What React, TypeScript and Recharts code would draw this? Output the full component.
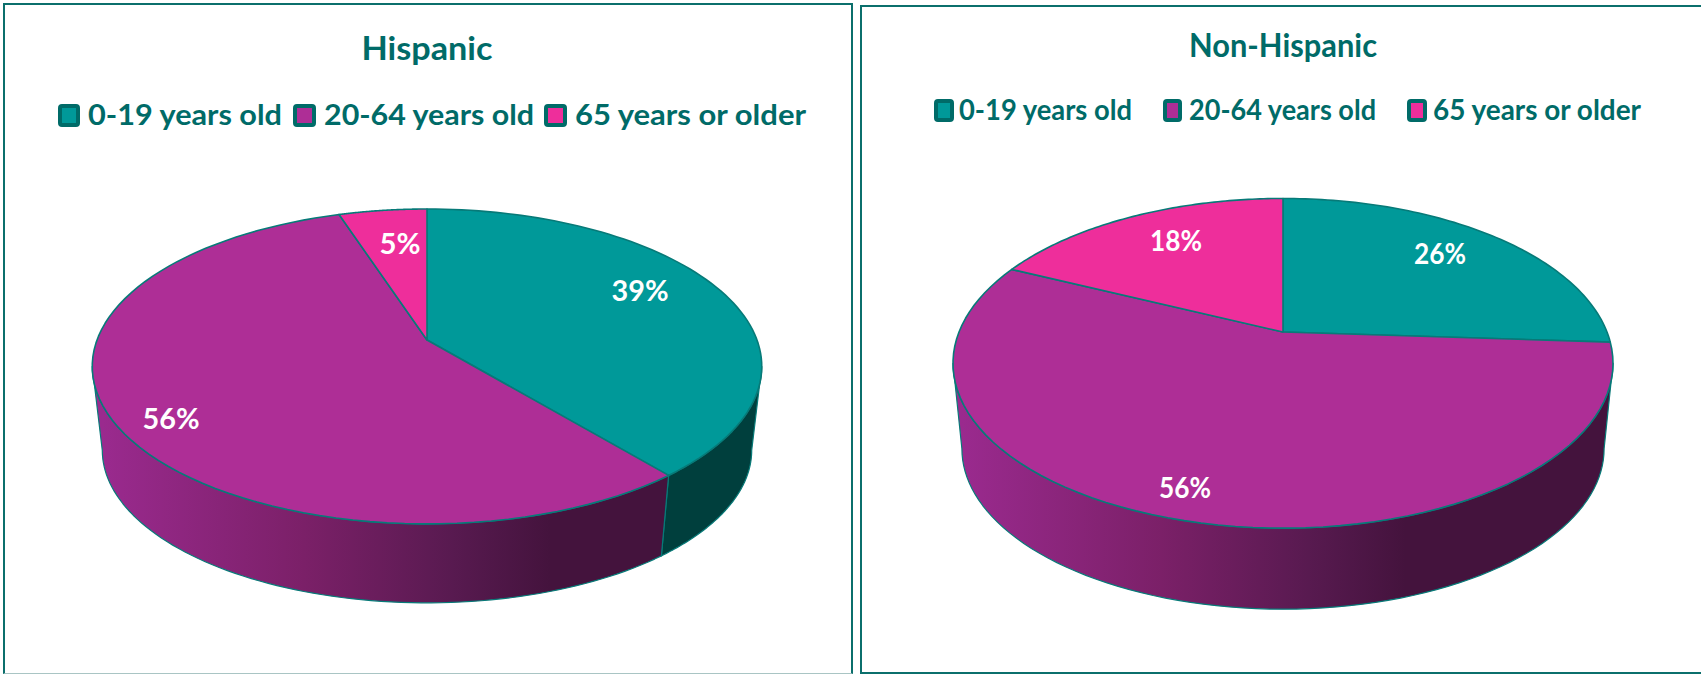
import { Legend, Pie, PieChart } from "recharts";

const AGE_GROUPS = ["0-19 years old", "20-64 years old", "65 years or older"];
const HISPANIC_VALUES = [39, 56, 5];
const NON_HISPANIC_VALUES = [26, 56, 18];
const SLICE_COLORS = ["#009999", "#ae2e96", "#ee2e9b"];

const TEAL_TEXT = "#006b68";
const EDGE = "#077a78";
const FONT = "Lato, Carlito, 'Open Sans', sans-serif";

const tableFor = (values: number[]) =>
  AGE_GROUPS.map((name, i) => ({ name, value: values[i], fill: SLICE_COLORS[i] }));

// fake perspective: the unit circle is projected so the apex sits above the ellipse centre
type Geo = { k: number; squash: number; drop: number; shrink: number; gradId: string };

function rimPoint(cx: number, cy: number, r: number, geo: Geo, deg: number) {
  const t = (deg * Math.PI) / 180;
  const u = Math.sin(t);
  const v = Math.cos(t);
  const w = 1 + geo.k * v;
  return { x: cx + (r * u) / w, y: cy - (r * geo.squash * v) / w };
}

function sliceShape(geo: Geo) {
  return (props: any) => {
    const { cx, cy, outerRadius, startAngle, endAngle, fill } = props;
    const from = 90 - startAngle;
    const to = 90 - endAngle;
    const steps = 80;

    const top: string[] = [];
    for (let i = 0; i <= steps; i++) {
      const p = rimPoint(cx, cy, outerRadius, geo, from + ((to - from) * i) / steps);
      top.push(`${p.x.toFixed(2)},${p.y.toFixed(2)}`);
    }

    // side wall is only seen between the two silhouette points
    const visFrom = (Math.acos(-geo.k) * 180) / Math.PI;
    const visTo = 360 - visFrom;
    const lo = Math.max(from, visFrom);
    const hi = Math.min(to, visTo);
    let wall = "";
    if (lo < hi) {
      const upper: string[] = [];
      const lower: string[] = [];
      for (let i = 0; i <= steps; i++) {
        const d = lo + ((hi - lo) * i) / steps;
        const a = rimPoint(cx, cy, outerRadius, geo, d);
        const b = rimPoint(cx, cy + geo.drop, outerRadius * geo.shrink, geo, d);
        upper.push(`${a.x.toFixed(2)},${a.y.toFixed(2)}`);
        lower.unshift(`${b.x.toFixed(2)},${b.y.toFixed(2)}`);
      }
      wall = `M${upper.join("L")}L${lower.join("L")}Z`;
    }

    const extent = (outerRadius * geo.shrink) / Math.sqrt(1 - geo.k * geo.k);
    const wallFill =
      fill === SLICE_COLORS[1] ? `url(#${geo.gradId})` : fill === SLICE_COLORS[0] ? "#003f3d" : "#7a1450";

    return (
      <g>
        <defs>
          <linearGradient
            id={geo.gradId}
            gradientUnits="userSpaceOnUse"
            x1={cx - extent}
            x2={cx + extent}
            y1={0}
            y2={0}
          >
            <stop offset="0" stopColor="#9a2a8e" />
            <stop offset="0.31" stopColor="#7b2068" />
            <stop offset="0.54" stopColor="#581a50" />
            <stop offset="0.69" stopColor="#44133d" />
            <stop offset="1" stopColor="#44133d" />
          </linearGradient>
        </defs>
        {wall && <path d={wall} fill={wallFill} stroke={EDGE} strokeWidth={1.2} strokeLinejoin="round" />}
        <path
          d={`M${cx},${cy}L${top.join("L")}Z`}
          fill={fill}
          stroke={EDGE}
          strokeWidth={1.6}
          strokeLinejoin="round"
        />
      </g>
    );
  };
}

type LegendSlot = { box: number; boxW: number; text: number; textW: number };

function AgeLegend({ payload, slots, y }: any) {
  // zero-height wrapper so the legend does not take room from the plot area
  return (
    <div style={{ height: 0, overflow: "visible" }}>
      <svg width={857} height={140} style={{ display: "block", overflow: "visible" }}>
        {(payload ?? []).map((entry: any, i: number) => {
          const s: LegendSlot = slots[i];
          return (
            <g key={entry.value}>
              <rect
                x={s.box + 2}
                y={y + 2}
                width={s.boxW - 4}
                height={19}
                rx={2}
                fill={entry.color}
                stroke={TEAL_TEXT}
                strokeWidth={4}
              />
              <text
                x={s.text}
                y={y + 21}
                fontFamily={FONT}
                fontSize={28}
                fontWeight={700}
                fill={TEAL_TEXT}
                textLength={s.textW}
                lengthAdjust="spacingAndGlyphs"
              >
                {entry.value}
              </text>
            </g>
          );
        })}
      </svg>
    </div>
  );
}

function PieCard({ title, titleX, titleY, titleW, values, cx, cy, radius, geo, slots, legendY, labels, labelW, width }: any) {
  const renderLabel = ({ index, value }: any) => (
    <text
      key={index}
      x={labels[index][0]}
      y={labels[index][1] + 10.5}
      textAnchor="middle"
      fontFamily={FONT}
      fontSize={28}
      fontWeight={700}
      fill="#ffffff"
      textLength={value < 10 ? labelW * 0.72 : labelW}
      lengthAdjust="spacingAndGlyphs"
    >
      {value}%
    </text>
  );

  return (
    <PieChart width={width} height={674} margin={{ top: 0, right: 0, bottom: 0, left: 0 }}>
      <text
        x={titleX}
        y={titleY}
        textAnchor="middle"
        fontFamily={FONT}
        fontSize={33}
        fontWeight={700}
        fill={TEAL_TEXT}
        textLength={titleW}
        lengthAdjust="spacingAndGlyphs"
      >
        {title}
      </text>
      <Legend
        verticalAlign="top"
        wrapperStyle={{ left: 0, top: 0, width: "100%" }}
        content={(p: any) => <AgeLegend payload={p.payload} slots={slots} y={legendY} />}
      />
      <Pie
        data={tableFor(values)}
        dataKey="value"
        nameKey="name"
        cx={cx}
        cy={cy}
        innerRadius={0}
        outerRadius={radius}
        startAngle={90}
        endAngle={-270}
        isAnimationActive={false}
        shape={sliceShape(geo)}
        label={renderLabel}
        labelLine={false}
      />
    </PieChart>
  );
}

const LEFT_SLOTS = [
  { box: 58, boxW: 22, text: 88, textW: 194 },
  { box: 293, boxW: 23, text: 324, textW: 210 },
  { box: 544, boxW: 23, text: 575, textW: 231 },
];
const RIGHT_SLOTS = [
  { box: 77, boxW: 20, text: 102, textW: 173 },
  { box: 306, boxW: 19, text: 332, textW: 187 },
  { box: 550, boxW: 20, text: 576, textW: 208 },
];
const LEFT_LABELS = [
  [640, 290.5],
  [171, 418],
  [400, 243],
];
const RIGHT_LABELS = [
  [583, 253],
  [328, 487],
  [319, 240],
];

export default function App() {
  return (
    <div
      style={{
        position: "absolute",
        left: 0,
        top: 0,
        width: 1701,
        height: 674,
        overflow: "hidden",
        background: "#fff",
      }}
    >
      {/* frames */}
      <div
        style={{
          position: "absolute",
          left: 3,
          top: 3,
          width: 846,
          height: 668,
          borderTop: `2px solid #0b6f6c`,
          borderLeft: `2px solid #0b6f6c`,
          borderRight: `2px solid #0b6f6c`,
          borderBottom: `1px solid #a9c5c4`,
        }}
      />
      <div
        style={{
          position: "absolute",
          left: 860,
          top: 5,
          width: 845,
          height: 665,
          border: `2px solid #0b6f6c`,
        }}
      />
      <div style={{ position: "absolute", left: 0, top: 0 }}>
        <PieCard
          title="Hispanic"
          titleX={427}
          titleY={60}
          titleW={131}
          values={HISPANIC_VALUES}
          cx={427}
          cy={340}
          radius={330}
          geo={{ k: 0.168, squash: 153 / 330, drop: 84.5, shrink: 0.97, gradId: "wallLeft" }}
          slots={LEFT_SLOTS}
          legendY={104}
          labels={LEFT_LABELS}
          labelW={57}
          width={857}
        />
      </div>
      <div style={{ position: "absolute", left: 857, top: 0 }}>
        <PieCard
          title="Non-Hispanic"
          titleX={426}
          titleY={57}
          titleW={188}
          values={NON_HISPANIC_VALUES}
          cx={426}
          cy={332}
          radius={324}
          geo={{ k: 0.19, squash: 158.9 / 324, drop: 86.3, shrink: 0.973, gradId: "wallRight" }}
          slots={RIGHT_SLOTS}
          legendY={99}
          labels={RIGHT_LABELS}
          labelW={52}
          width={844}
        />
      </div>
    </div>
  );
}
